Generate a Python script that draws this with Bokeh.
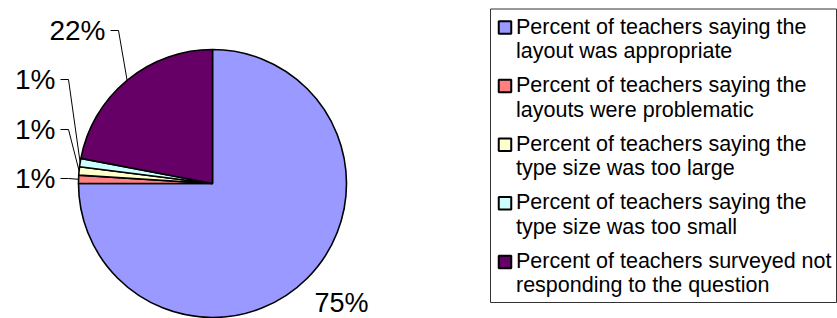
import numpy as np
from bokeh.plotting import figure
from bokeh.models import Range1d, ColumnDataSource
from bokeh.core.properties import value
from bokeh.embed import file_html
from bokeh.resources import INLINE

# ---- data ----
categories = [
    "Percent of teachers saying the\nlayout was appropriate",
    "Percent of teachers saying the\nlayouts were problematic",
    "Percent of teachers saying the\ntype size was too large",
    "Percent of teachers saying the\ntype size was too small",
    "Percent of teachers surveyed not\nresponding to the question",
]
percents = [75, 1, 1, 1, 22]
pct_labels = ["75%", "1%", "1%", "1%", "22%"]
colors = ["#9999FF", "#FF8080", "#FFFFCC", "#CCFFFF", "#660066"]

# ---- layout (page pixel coordinates; y measured downward, converted below) ----
W, H = 837, 318
TOP = 318  # y_data = TOP - y_page
cx, cy_page, R = 212, 183, 134
label_x = [341, 55, 55, 55, 105]
label_y = [302, 178, 129, 79, 30]
label_size = ["27px", "28px", "28px", "28px", "28px"]
label_align = ["center", "right", "right", "right", "right"]
has_leader = [False, True, True, True, True]
FONT = "Liberation Sans"

p = figure(width=W, height=H, x_range=Range1d(0, W), y_range=Range1d(TOP - H, TOP),
           output_backend="svg", toolbar_location=None, min_border=0,
           x_axis_location=None, y_axis_location=None)
p.grid.visible = False
p.outline_line_color = None
p.background_fill_color = "white"
p.border_fill_color = "white"

cy = TOP - cy_page
vals = np.array(percents, dtype=float)
frac = vals / vals.sum()
cum = np.cumsum(frac)
prev = np.concatenate([[0.0], cum[:-1]])
start = np.pi / 2 - 2 * np.pi * prev
end = np.pi / 2 - 2 * np.pi * cum
mid = (start + end) / 2

src = ColumnDataSource(dict(start=start, end=end, color=colors))
p.wedge(x=cx, y=cy, radius=R, start_angle="start", end_angle="end", direction="clock",
        fill_color="color", line_color="black", line_width=1.6, source=src)

# leader lines and labels
for i in range(len(percents)):
    ex = cx + R * np.cos(mid[i])
    ey = cy + R * np.sin(mid[i])
    lx = label_x[i]
    ly = TOP - label_y[i]
    if has_leader[i]:
        p.line(x=[lx + 5, lx + 13, ex], y=[ly, ly, ey], line_color="black", line_width=1)
    p.text(x=[lx], y=[ly], text=[pct_labels[i]], text_align=label_align[i],
           text_baseline="middle", text_font=value(FONT), text_font_size=label_size[i],
           text_color="black")

# legend box
p.quad(left=[490], right=[836], top=[TOP - 8.5], bottom=[TOP - 302],
       fill_color=None, line_color="#333333", line_width=1)
first_center = 26
entry_gap = 58.6
line_gap = 24.5
for i, lab in enumerate(categories):
    c = first_center + i * entry_gap
    p.rect(x=[504.5], y=[TOP - (c + 1)], width=12.5, height=12.5, fill_color=colors[i],
           line_color="black", line_width=2)
    for j, line in enumerate(lab.split("\n")):
        p.text(x=[515.5], y=[TOP - (c + j * line_gap)], text=[line], text_align="left",
               text_baseline="middle", text_font=value(FONT), text_font_size="21.5px",
               text_color="black")

open("out.html", "w").write(file_html(p, INLINE))
